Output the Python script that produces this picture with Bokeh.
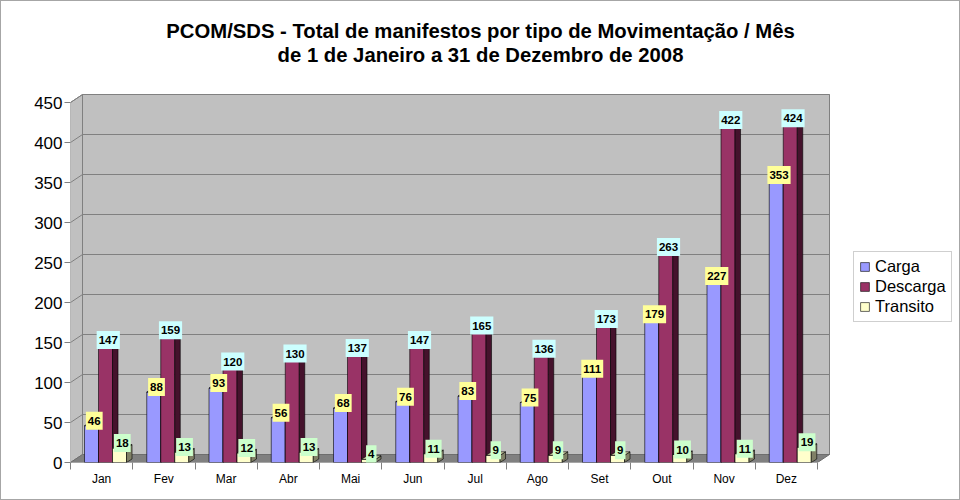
from bokeh.plotting import figure
from bokeh.models import FixedTicker, Legend, LegendItem, Range1d
from bokeh.embed import file_html
from bokeh.resources import INLINE
from bokeh.core.properties import value

# ---- data ----
months = ["Jan", "Fev", "Mar", "Abr", "Mai", "Jun", "Jul", "Ago", "Set", "Out", "Nov", "Dez"]
carga = [46, 88, 93, 56, 68, 76, 83, 75, 111, 179, 227, 353]
descarga = [147, 159, 120, 130, 137, 147, 165, 136, 173, 263, 422, 424]
transito = [18, 13, 12, 13, 4, 11, 9, 9, 9, 10, 11, 19]
y_ticks = [0, 50, 100, 150, 200, 250, 300, 350, 400, 450]
title_lines = ["PCOM/SDS - Total de manifestos por tipo de Movimentação / Mês",
               "de 1 de Janeiro a 31 de Dezembro de 2008"]

FONT = "Liberation Sans"

# ---- geometry (pixels -> data) ----
W, H = 960, 500
LEFT, BOTTOM = 70, 38
PX_X = 62.25          # pixels per category
PX_Y = 0.8            # pixels per unit
fw, fh = W - LEFT, H - BOTTOM
NCAT = len(months)
YMAX = y_ticks[-1]
DX, DY = 12 / PX_X, 8 / PX_Y          # wall depth
BDX, BDY = 5.5 / PX_X, 3.5 / PX_Y     # bar depth
BW = 0.225                            # bar width
OFFS = [0.225, 0.45, 0.675]

p = figure(width=W, height=H, x_range=Range1d(0, fw / PX_X), y_range=Range1d(0, fh / PX_Y),
           output_backend="svg", toolbar_location=None,
           min_border_left=LEFT, min_border_right=0, min_border_top=0, min_border_bottom=BOTTOM)
p.outline_line_color = None
p.xgrid.visible = False
p.ygrid.visible = False
p.background_fill_alpha = 0
p.border_fill_alpha = 0
p.styles = {"box-shadow": "inset 0 0 0 1px #A6A6A6", "background-color": "white"}

# walls
p.patch([0, 0, DX, DX], [0, YMAX, YMAX + DY, DY], fill_color="#C0C0C0", line_color="#808080", line_width=1)
p.quad(left=[DX], right=[NCAT + DX], bottom=[DY], top=[YMAX + DY],
       fill_color="#C0C0C0", line_color="#808080", line_width=1)
gv = y_ticks[1:]
p.segment(x0=[DX] * len(gv), y0=[v + DY for v in gv], x1=[NCAT + DX] * len(gv), y1=[v + DY for v in gv],
          line_color="#808080", line_width=1)
p.segment(x0=[0] * len(gv), y0=gv, x1=[DX] * len(gv), y1=[v + DY for v in gv],
          line_color="#808080", line_width=1)
# floor
p.patch([0, NCAT, NCAT + DX, DX], [0, 0, DY, DY], fill_color="#808080", line_color="#6E6E6E", line_width=1)

# bars
series = [
    ("Carga", carga, "#9999FF", "#4D4D80", "#7A7ACC", "#FFFF99"),
    ("Descarga", descarga, "#993366", "#45122C", "#7A2952", "#CCFFFF"),
    ("Transito", transito, "#FFFFCC", "#808066", "#CCCCA3", "#CCFFCC"),
]
renderers = {}
for (name, vals, col, side, topc, lab), off in zip(series, OFFS):
    lefts = [i + off for i in range(NCAT)]
    rights = [l + BW for l in lefts]
    r = p.quad(left=lefts, right=rights, bottom=[0] * NCAT, top=vals,
               fill_color=col, line_color="#000000", line_width=0.6)
    renderers[name] = r
    p.patches(xs=[[rr, rr + BDX, rr + BDX, rr] for rr in rights],
              ys=[[0, BDY, v + BDY, v] for v in vals],
              fill_color=side, line_color="#000000", line_width=0.6)
    p.patches(xs=[[l, rr, rr + BDX, l + BDX] for l, rr in zip(lefts, rights)],
              ys=[[v, v, v + BDY, v + BDY] for v in vals],
              fill_color=topc, line_color="#000000", line_width=0.6)

# value labels
for (name, vals, col, side, topc, lab), off in zip(series, OFFS):
    xs = [i + off + BW / 2 + BDX / 2 for i in range(NCAT)]
    p.text(x=xs, y=vals, text=[str(v) for v in vals], text_align="center", text_baseline="middle",
           y_offset=-5, text_font=value(FONT), text_font_style="bold", text_font_size="11.5px",
           text_color="#000000", background_fill_color=lab,
           padding=(2, 5))

# title
p.text(x=[(480 - 70) / PX_X] * 2, y=[(462 - 30) / PX_Y, (462 - 54) / PX_Y], text=title_lines,
       text_align="center", text_baseline="middle", text_font=value(FONT),
       text_font_style="bold", text_font_size="20.3px", text_color="#000000")

# axes
p.yaxis.ticker = FixedTicker(ticks=y_ticks)
p.yaxis.axis_line_color = None
p.yaxis.major_tick_out = 6
p.yaxis.major_tick_in = 0
p.yaxis.major_tick_line_color = "#808080"
p.yaxis.minor_tick_line_color = None
p.yaxis.major_label_standoff = 2
p.yaxis.major_label_text_font = FONT
p.yaxis.major_label_text_font_size = "17px"
p.yaxis.major_label_text_color = "#000000"

p.xaxis.ticker = FixedTicker(ticks=[i + 0.5 for i in range(NCAT)], minor_ticks=list(range(NCAT + 1)))
p.xaxis.major_label_overrides = {i + 0.5: m for i, m in enumerate(months)}
p.xaxis.axis_line_color = None
p.xaxis.major_tick_line_color = None
p.xaxis.major_tick_out = 0
p.xaxis.major_tick_in = 0
p.xaxis.minor_tick_out = 7
p.xaxis.minor_tick_in = 0
p.xaxis.minor_tick_line_color = "#808080"
p.xaxis.major_label_standoff = 2
p.xaxis.major_label_text_font = FONT
p.xaxis.major_label_text_font_size = "12px"
p.xaxis.major_label_text_color = "#000000"

# legend
legend = Legend(items=[LegendItem(label=n, renderers=[renderers[n]]) for n in ["Carga", "Descarga", "Transito"]],
                location=(783, 140), orientation="vertical")
legend.label_text_font = FONT
legend.label_text_font_size = "16.5px"
legend.label_text_color = "#000000"
legend.glyph_width = 11
legend.glyph_height = 11
legend.label_standoff = 5
legend.label_height = 19
legend.spacing = 1
legend.padding = 5
legend.margin = 0
legend.border_line_color = "#A0A0A0"
legend.background_fill_color = "white"
legend.background_fill_alpha = 1
p.add_layout(legend)

open("out.html", "w").write(file_html(p, INLINE))
